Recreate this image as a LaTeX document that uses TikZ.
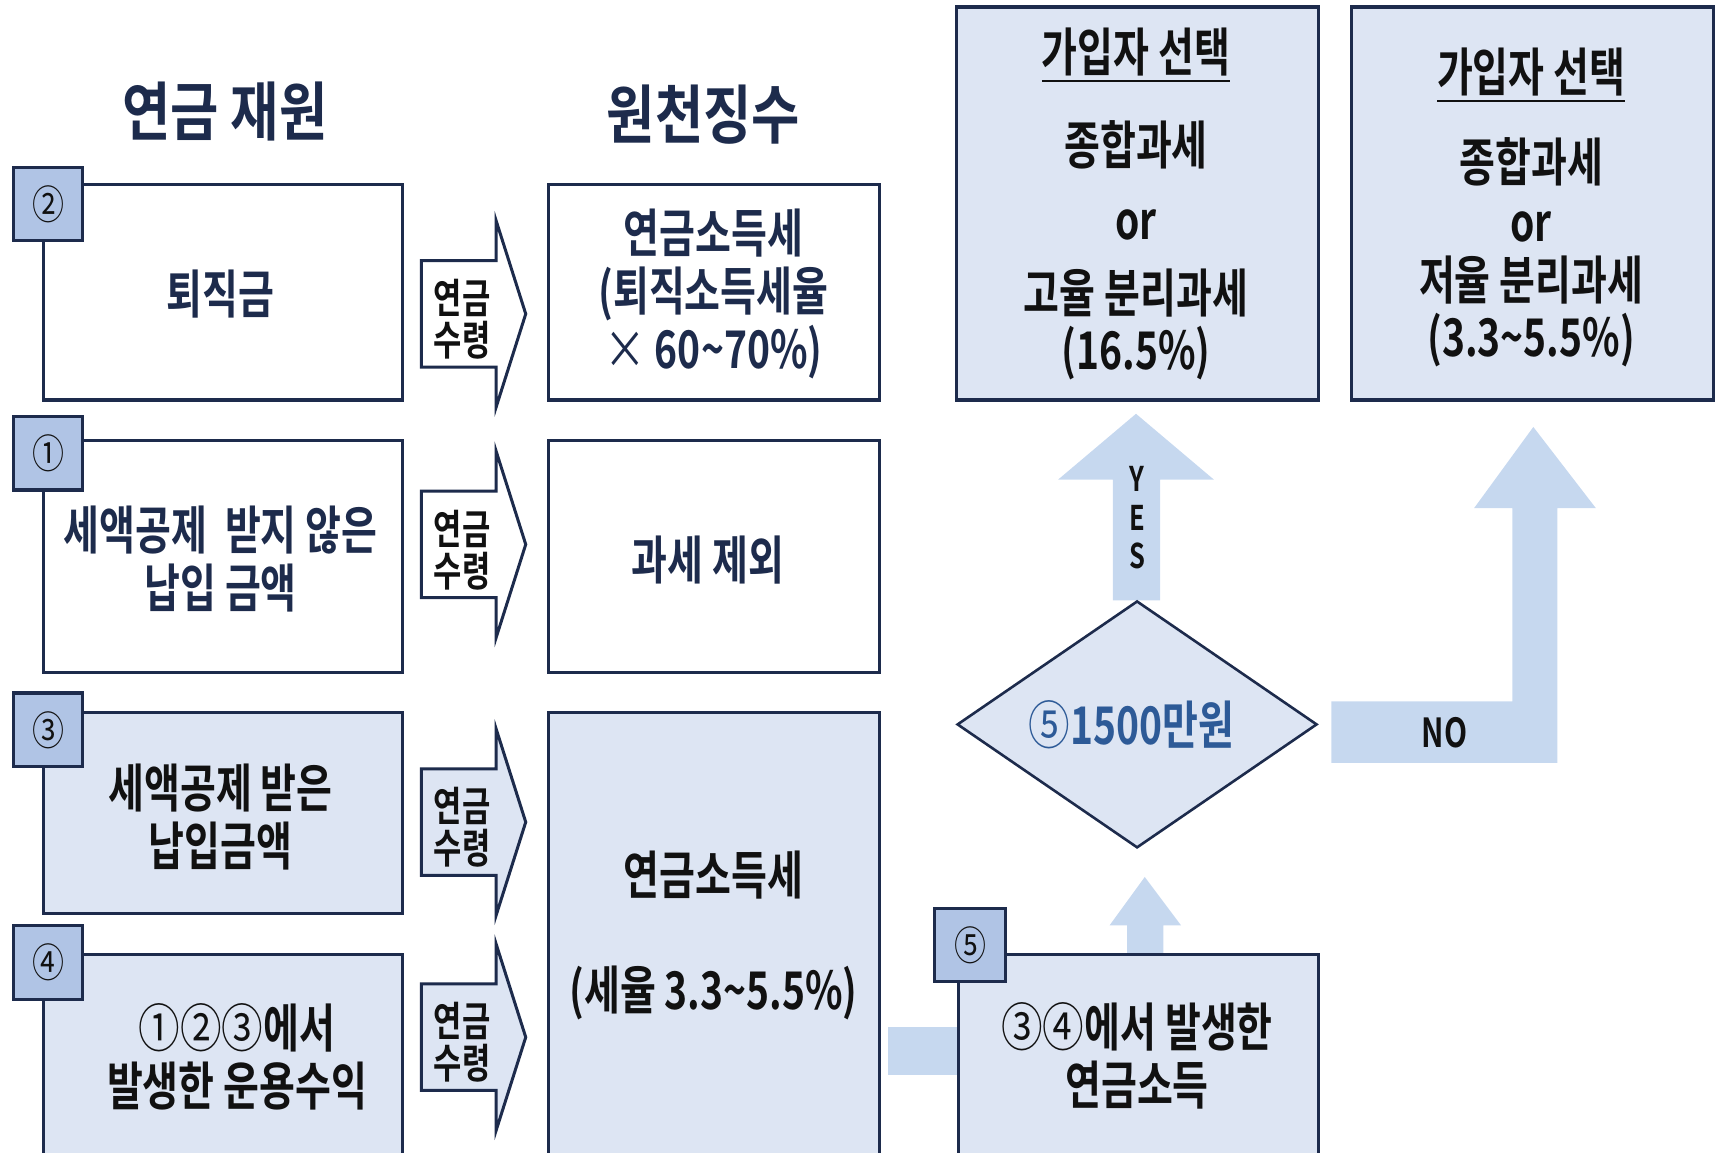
\documentclass[tikz,border=0pt]{standalone}
\usepackage{fontspec}
\newfontfamily\kr{Noto Sans CJK KR Bold}[FakeStretch=0.75]
\newfontfamily\krh{Noto Sans CJK KR Bold}[FakeStretch=0.82]
\newfontfamily\krr{Noto Sans CJK KR}[FakeStretch=0.8]
\usetikzlibrary{shapes.geometric}
\definecolor{navy}{HTML}{1D2B4C}
\definecolor{lfill}{HTML}{DDE5F3}
\definecolor{labc}{HTML}{B0C4E5}
\definecolor{arr}{HTML}{C6D8EF}
\definecolor{blu}{HTML}{2D5A97}
\definecolor{ink}{HTML}{111111}
\newcommand\myul[1]{\setbox0\hbox{#1}\rlap{\rule[-0.2em]{\wd0}{2.4pt}}\box0}
\begin{document}
\begin{tikzpicture}[x=1.0976pt,y=-1.0976pt,
  box/.style 2 args={draw=navy, line width=3.2pt, minimum width=#1*1.0976pt,
    minimum height=#2*1.0976pt, inner sep=0pt, anchor=north west},
  labbox/.style={box={63}{67}, fill=labc, font=\krr\fontsize{40}{44}\selectfont, text=ink},
  hdr/.style={font=\krh\fontsize{64}{72}\selectfont, text=navy, inner sep=0pt},
  txt/.style={font=\kr\fontsize{52}{58}\selectfont, align=center, text=navy, inner sep=0pt},
  txtk/.style={txt, text=ink},
  rtxt/.style={font=\kr\fontsize{52}{57}\selectfont, align=center, text=ink, inner sep=0pt},
  arrtxt/.style={font=\kr\fontsize{41}{42}\selectfont, align=center, text=ink, inner sep=0pt},
  barrow/.style={draw=navy, line width=3pt, line join=miter},
  larrow/.style={fill=arr, draw=none}
]
\useasboundingbox (0,0) rectangle (1568,1050);
\clip (0,0) rectangle (1568,1050);

% headers
\node[hdr] (h1) at (205,102) {연금 재원};
\node[hdr] (h2) at (641,104) {원천징수};

% light connectors (drawn first)
\fill[larrow] (809,936) rectangle (874,979);
\fill[larrow] (1027,869) -- (1027,843) -- (1011,843) -- (1043,799) -- (1076,843) -- (1060,843) -- (1060,869) -- cycle;
\fill[larrow] (1014,547) -- (1014,437) -- (964,437) -- (1035,377) -- (1106,437) -- (1057,437) -- (1057,547) -- cycle;
\fill[larrow] (1213,639) -- (1378,639) -- (1378,463) -- (1343,463) -- (1397,389) -- (1454,463) -- (1419,463) -- (1419,695) -- (1213,695) -- cycle;

% left column boxes
\node[box={327}{196}, fill=white] (b2) at (38,167) {};
\node[box={327}{211}, fill=white] (b1) at (38,400) {};
\node[box={327}{183}, fill=lfill] (b3) at (38,648) {};
\node[box={327}{220}, fill=lfill] (b4) at (38,868) {};

% middle column boxes
\node[box={302}{196}, fill=white] (t1) at (498,167) {};
\node[box={302}{211}, fill=white] (t2) at (498,400) {};
\node[box={302}{440}, fill=lfill] (t3) at (498,648) {};

% right boxes
\node[box={330}{358}, fill=lfill] (rA) at (870,5) {};
\node[box={330}{358}, fill=lfill] (rB) at (1230,5) {};
\node[box={328}{220}, fill=lfill] (b5) at (872,868) {};

% block arrows
\foreach \c/\f in {286/white, 496/white, 749/lfill, 945/lfill}{
  \filldraw[barrow, fill=\f] (384,\c-48.5) -- (452,\c-48.5) -- (452,\c-85) -- (479,\c) -- (452,\c+85) -- (452,\c+48.5) -- (384,\c+48.5) -- cycle;
}
\node[arrtxt] (a1) at (421,291) {연금\\수령};
\node[arrtxt] (a2) at (421,501) {연금\\수령};
\node[arrtxt] (a3) at (421,754) {연금\\수령};
\node[arrtxt] (a4) at (421,950) {연금\\수령};

% diamond
\node[diamond, draw=navy, line width=2.6pt, fill=lfill, aspect=1.46,
  minimum width=328*1.0976pt, minimum height=225*1.0976pt, inner sep=0pt] (dm) at (1036,660) {};
\node[font=\kr\fontsize{52}{54}\selectfont, text=blu, inner sep=0pt] (dmt) at (1031,660) {{\krr ⑤}1500만원};

% labels on arrows
\node[font=\kr\fontsize{34}{38.5}\selectfont, align=center, text=ink, inner sep=0pt] (yes) at (1036,472) {Y\\E\\S};
\node[font=\kr\fontsize{40}{44}\selectfont, text=ink, inner sep=0pt] (no) at (1316,668) {NO};

% number squares
\node[labbox] (l2) at (11,151) {②};
\node[labbox] (l1) at (11,378) {①};
\node[labbox] (l3) at (11,630) {③};
\node[labbox] (l4) at (11,842) {④};
\node[box={65}{67}, fill=labc, font=\krr\fontsize{40}{44}\selectfont, text=ink] (l5) at (850,826) {⑤};

% texts
\node[txt] (x2) at (201,268) {퇴직금};
\node[txt] (x1) at (201,509) {세액공제\ \ 받지 않은\\납입 금액};
\node[txtk] (x3) at (201,744) {세액공제 받은\\납입금액};
\node[txtk] (x4) at (216,963) {{\krr ①②③}에서\\발생한 운용수익};
\node[txt] (y1) at (650,268) {연금소득세\\(퇴직소득세율\\{\krr ×} 60\textasciitilde 70\%)};
\node[txt] (y2) at (645,510) {과세 제외};
\node[txtk] (y3) at (650,852) {연금소득세\\[57pt](세율 3.3\textasciitilde 5.5\%)};
\node[txtk] (z5) at (1036,962) {{\krr ③④}에서 발생한\\연금소득};
\node[rtxt] (zA) at (1035,186) {\myul{가입자 선택}\\[36pt]종합과세\\[18pt]or\\[16pt]고율 분리과세\\(16.5\%)};
\node[rtxt] (zB) at (1395,189) {\myul{가입자 선택}\\[33pt]종합과세\\[3pt]or\\[1pt]저율 분리과세\\(3.3\textasciitilde 5.5\%)};
\end{tikzpicture}
\end{document}
